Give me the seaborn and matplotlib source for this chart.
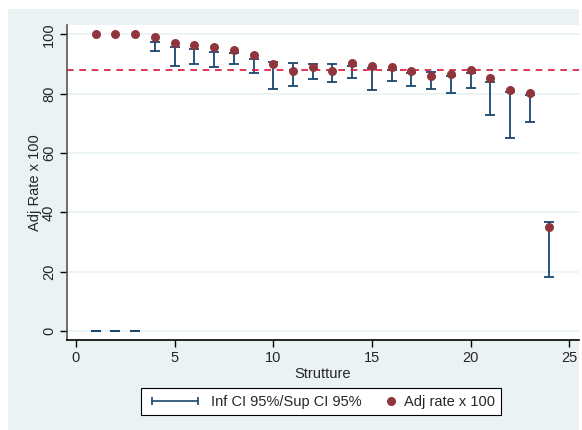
import matplotlib
matplotlib.use("Agg")
import matplotlib.pyplot as plt
from matplotlib.patches import Rectangle
from matplotlib.lines import Line2D
from matplotlib.legend_handler import HandlerBase
import seaborn as sns
import pandas as pd
import numpy as np

strutture = list(range(1, 25))
adj_rate = [100, 100, 100, 99.2, 97.0, 96.4, 95.6, 94.6, 93.1, 89.9, 87.5, 89.1,
            87.6, 90.3, 89.4, 89.0, 87.5, 86.0, 86.6, 88.0, 85.2, 81.1, 80.3, 35.0]
ci_inf = [0, 0, 0, 94.4, 89.2, 89.9, 88.8, 89.8, 87.1, 81.7, 82.7, 84.8,
          83.9, 85.4, 81.3, 84.3, 82.6, 81.6, 80.2, 82.0, 72.8, 65.2, 70.5, 18.3]
ci_sup = [0, 0, 0, 97.5, 95.8, 94.9, 94.1, 93.8, 91.8, 90.6, 90.3, 90.1,
          90.1, 89.4, 88.5, 88.0, 86.9, 87.2, 85.9, 87.1, 84.0, 80.6, 79.5, 36.8]
ref_value = 88.0

df = pd.DataFrame({"Strutture": strutture, "Adj rate x 100": adj_rate,
                   "inf": ci_inf, "sup": ci_sup})

sns.set_style("white")
plt.rcParams['font.family'] = ['Liberation Sans', 'DejaVu Sans']

BG = "#EAF2F3"
NAVY = "#1A476F"
MAROON = "#90353B"
FS = 10.5


class RightDotHandler(HandlerBase):
    def create_artists(self, legend, orig_handle, xdescent, ydescent, width, height,
                       fontsize, trans):
        dot = Line2D([width - xdescent - 3], [height / 2 - ydescent], lw=0,
                     marker="o", markersize=6.5, markeredgewidth=0,
                     color=orig_handle.get_color())
        dot.set_transform(trans)
        return [dot]


fig = plt.figure(figsize=(5.82, 4.30), dpi=100)
fig.patch.set_facecolor("white")
fig.patches.append(Rectangle((8/582, 0), (579-8)/582, 1-9/430, transform=fig.transFigure,
                             facecolor=BG, edgecolor="none", zorder=-5))

ax = fig.add_axes([67/582, 1-340/430, (579-67)/582, (340-25)/430])
ax.set_zorder(1)
ax.set_facecolor("white")

for v in [0, 20, 40, 60, 80, 100]:
    ax.axhline(v, color=BG, lw=1.2, zorder=0.5)

mid = (df["inf"] + df["sup"]) / 2
half = (df["sup"] - df["inf"]) / 2
ax.errorbar(df["Strutture"], mid, yerr=half, fmt="none", ecolor=NAVY,
            elinewidth=1.3, capsize=3.5, capthick=1.3, zorder=2)

ax.axhline(ref_value, color="#D7153A", lw=1.2, ls=(0, (4, 3.4)), zorder=3)

sns.scatterplot(data=df, x="Strutture", y="Adj rate x 100", ax=ax, color=MAROON,
                s=42, edgecolor=MAROON, linewidth=0, zorder=4, legend=False)

ax.set_xlim(-0.456, 25.5)
ax.set_ylim(-3.0, 103.1)
ax.set_xticks([0, 5, 10, 15, 20, 25])
ax.set_yticks([0, 20, 40, 60, 80, 100])
ax.tick_params(axis="both", direction="out", length=5, width=1, color="black",
               labelsize=FS, pad=3, left=True, bottom=True)
for lab in ax.get_yticklabels():
    lab.set_rotation(90)
    lab.set_va("center")
ax.set_xlabel("Strutture", fontsize=FS, labelpad=1)
ax.set_ylabel("Adj Rate x 100", fontsize=FS, labelpad=0)

for s in ["top", "right"]:
    ax.spines[s].set_visible(False)
ax.spines["left"].set_color("#555555")
ax.spines["bottom"].set_color("black")
ax.spines["left"].set_linewidth(1.2)
ax.spines["bottom"].set_linewidth(1.2)

h_ci = Line2D([0, 1], [0, 0], color=NAVY, lw=1.2, marker="|", markersize=6, markeredgewidth=1.2)
h_pt = Line2D([0], [0], color=MAROON, lw=0, marker="o")
leg = fig.legend([h_ci, h_pt], ["Inf CI 95%/Sup CI 95%", "Adj rate x 100"],
                 handler_map={h_pt: RightDotHandler()},
                 loc="center", bbox_to_anchor=(0.5515, 0.066), ncol=2, numpoints=2,
                 fontsize=FS, frameon=True, fancybox=False, framealpha=1,
                 edgecolor="black", handlelength=3.77, columnspacing=-1.5,
                 borderpad=0.45, handletextpad=0.6)
leg.get_frame().set_linewidth(0.8)
leg.set_zorder(5)

fig.savefig("out.png", dpi=100, facecolor=fig.get_facecolor())
